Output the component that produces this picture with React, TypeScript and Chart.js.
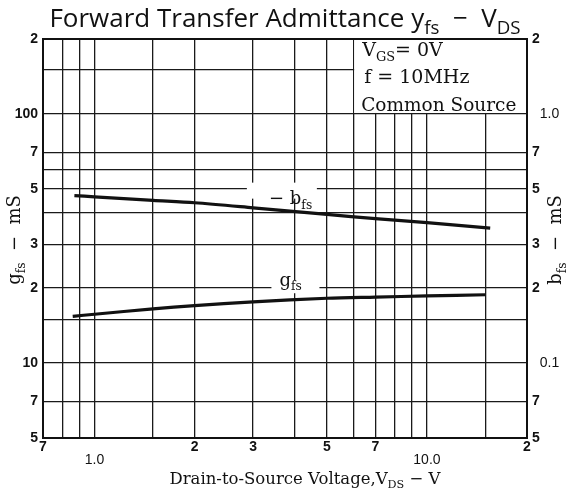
import { useEffect, useRef } from 'react';
import { Chart, registerables } from 'chart.js';

Chart.register(...registerables);

// ---- data ----
const vdsGfs = [0.86, 1.0, 1.5, 2, 3, 5, 7, 10, 15];
const gfsValues = [15.4, 15.7, 16.5, 17.0, 17.6, 18.2, 18.4, 18.6, 18.8]; // mS, left axis
const vdsBfs = [0.87, 1.0, 1.5, 2, 3, 5, 7, 10, 15.5];
const bfsValues = [0.47, 0.465, 0.45, 0.44, 0.42, 0.395, 0.38, 0.366, 0.348]; // mS, right axis

const xGridValues = [0.7, 0.8, 0.9, 1, 1.5, 2, 3, 4, 5, 6, 7, 8, 9, 10, 15, 20];
const xTickLabels: Record<string, string | string[]> = {
  '0.7': '7', '1': ['', '1.0'], '2': '2', '3': '3', '5': '5', '7': '7', '10': ['', '10.0'], '20': '2',
};
const yGridValues = [5, 7, 10, 15, 20, 30, 40, 50, 60, 70, 100, 150, 200];
const yTickLabels: Record<string, string> = {
  '5': '5', '7': '7', '10': '10', '20': '2', '30': '3', '50': '5', '70': '7', '100': '100', '200': '2',
};
const y2TickValues = [0.05, 0.07, 0.1, 0.2, 0.3, 0.5, 0.7, 1, 2];
const y2TickLabels: Record<string, string> = {
  '0.05': '5', '0.07': '7', '0.1': '  0.1', '0.2': '2', '0.3': '3', '0.5': '5', '0.7': '7', '1': '  1.0', '2': '2',
};

const SERIF = '"DejaVu Serif", serif';
const SANS = '"Open Sans", "Noto Sans", sans-serif';
const TICKF = '"Liberation Sans", Arial, sans-serif';
const INK = '#111';

type Part = { t: string; sub?: boolean };

function drawRich(
  ctx: CanvasRenderingContext2D, parts: Part[], x: number, y: number,
  size: number, family: string, align: 'left' | 'center' = 'left', weight = 'normal', subScale = 0.68
) {
  const subSize = size * subScale;
  const widths = parts.map((p) => {
    ctx.font = `${weight} ${p.sub ? subSize : size}px ${family}`;
    return ctx.measureText(p.t).width;
  });
  const total = widths.reduce((a, b) => a + b, 0);
  let cx = align === 'center' ? x - total / 2 : x;
  ctx.textAlign = 'left';
  ctx.textBaseline = 'alphabetic';
  parts.forEach((p, i) => {
    ctx.font = `${weight} ${p.sub ? subSize : size}px ${family}`;
    ctx.fillText(p.t, cx, p.sub ? y + size * 0.25 : y);
    cx += widths[i];
  });
  return total;
}

const overlay = {
  id: 'overlay',
  beforeDatasetsDraw(chart: any) {
    const { ctx, scales } = chart;
    const xs = scales.x, ys = scales.y;
    ctx.save();
    // label backgrounds (break the grid lines behind the curve labels)
    ctx.fillStyle = '#fff';
    const lb = xs.getPixelForValue(3.3);
    ctx.fillRect(lb - 20, ys.getPixelForValue(53), 70, 16);
    const lg = xs.getPixelForValue(3.6);
    ctx.fillRect(lg - 8, ys.getPixelForValue(21.5), 48, 13);
    ctx.restore();
  },
  afterDraw(chart: any) {
    const { ctx, chartArea: a, scales } = chart;
    const xs = scales.x, ys = scales.y;
    ctx.save();

    // condition box (left edge is the 6 V grid line, bottom the 100 mS line)
    const bx = xs.getPixelForValue(6);
    const by = ys.getPixelForValue(100);
    ctx.fillStyle = '#fff';
    ctx.fillRect(bx + 1, a.top, a.right - bx - 1, by - a.top - 1);

    ctx.fillStyle = INK;
    ctx.strokeStyle = INK;
    // plot frame
    ctx.lineWidth = 2;
    ctx.strokeRect(a.left, a.top, a.right - a.left, a.bottom - a.top);

    // title
    drawRich(ctx, [
      { t: 'Forward Transfer Admittance y' }, { t: 'fs', sub: true }, { t: '  \u2212  V' }, { t: 'DS', sub: true },
    ], (a.left + a.right) / 2, 27, 26, SANS, 'center', 'normal', 0.72);

    // condition box text
    drawRich(ctx, [{ t: 'V' }, { t: 'GS', sub: true }, { t: '= 0V' }], bx + 9, a.top + 17, 19, SERIF);
    drawRich(ctx, [{ t: 'f = 10MHz' }], bx + 11, a.top + 44, 19, SERIF);
    drawRich(ctx, [{ t: 'Common Source' }], bx + 8, a.top + 72, 18.5, SERIF);

    // curve labels
    drawRich(ctx, [{ t: '\u2212 b' }, { t: 'fs', sub: true }], xs.getPixelForValue(3.35), ys.getPixelForValue(43.5), 18, SERIF);
    drawRich(ctx, [{ t: 'g' }, { t: 'fs', sub: true }], xs.getPixelForValue(3.6), ys.getPixelForValue(20.4), 18, SERIF);

    // x title
    drawRich(ctx, [
      { t: 'Drain-to-Source Voltage,V' }, { t: 'DS', sub: true }, { t: ' \u2212 V' },
    ], 305, 484, 16.5, SERIF, 'center');

    // y titles (rotated)
    const yc = 240;
    ctx.save();
    ctx.translate(14, yc);
    ctx.rotate(-Math.PI / 2);
    drawRich(ctx, [{ t: 'g' }, { t: 'fs', sub: true }, { t: '  \u2212  mS' }], 0, 6, 18, SERIF, 'center');
    ctx.restore();
    ctx.save();
    ctx.translate(555, yc);
    ctx.rotate(-Math.PI / 2);
    drawRich(ctx, [{ t: 'b' }, { t: 'fs', sub: true }, { t: '  \u2212  mS' }], 0, 6, 18, SERIF, 'center');
    ctx.restore();

    ctx.restore();
  },
};

export default function App() {
  const ref = useRef<HTMLCanvasElement>(null);
  useEffect(() => {
    const canvas = ref.current!;
    const gridOpts = { color: '#1a1a1a', lineWidth: 1.3, drawTicks: false };
    const chart = new Chart(canvas, {
      type: 'line',
      data: {
        datasets: [
          {
            label: 'gfs',
            data: vdsGfs.map((v, i) => ({ x: v, y: gfsValues[i] })),
            yAxisID: 'y',
            borderColor: INK, borderWidth: 3.2, pointRadius: 0, tension: 0.3, fill: false,
          },
          {
            label: '-bfs',
            data: vdsBfs.map((v, i) => ({ x: v, y: bfsValues[i] })),
            yAxisID: 'y2',
            borderColor: INK, borderWidth: 3.2, pointRadius: 0, tension: 0.3, fill: false,
          },
        ],
      },
      options: {
        animation: false,
        responsive: false,
        devicePixelRatio: 1,
        layout: { padding: { top: 39, left: 0, right: 0, bottom: 0 } },
        plugins: { legend: { display: false }, tooltip: { enabled: false }, title: { display: false } },
        scales: {
          x: {
            type: 'logarithmic', min: 0.7, max: 20, position: 'bottom',
            afterBuildTicks: (s: any) => { s.ticks = xGridValues.map((v) => ({ value: v })); },
            afterFit: (s: any) => { s.height = 57; },
            grid: gridOpts,
            border: { display: false },
            ticks: {
              autoSkip: false, maxRotation: 0, minRotation: 0, padding: 2, color: INK,
              font: (c: any) => {
                const lab = xTickLabels[String(c.tick?.value)];
                return Array.isArray(lab)
                  ? { family: TICKF, size: 14, weight: 'normal', lineHeight: 0.95 }
                  : { family: TICKF, size: 14, weight: 'bold', lineHeight: 0.95 };
              },
              callback: (v: any) => xTickLabels[String(v)] ?? '',
            },
          },
          y: {
            type: 'logarithmic', min: 5, max: 200, position: 'left',
            afterBuildTicks: (s: any) => { s.ticks = yGridValues.map((v) => ({ value: v })); },
            afterFit: (s: any) => { s.width = 43; },
            grid: gridOpts,
            border: { display: false },
            ticks: {
              autoSkip: false, padding: 5, color: INK,
              font: { family: TICKF, size: 14, weight: 'bold' },
              callback: (v: any) => yTickLabels[String(v)] ?? '',
            },
          },
          y2: {
            type: 'logarithmic', min: 0.05, max: 2, position: 'right',
            afterBuildTicks: (s: any) => { s.ticks = y2TickValues.map((v) => ({ value: v })); },
            afterFit: (s: any) => { s.width = 41; },
            grid: { display: false, drawTicks: false },
            border: { display: false },
            ticks: {
              autoSkip: false, padding: 5, color: INK,
              font: (c: any) => {
                const lab = y2TickLabels[String(c.tick?.value)] ?? '';
                return lab.length > 2
                  ? { family: TICKF, size: 14, weight: 'normal' }
                  : { family: TICKF, size: 14, weight: 'bold' };
              },
              callback: (v: any) => y2TickLabels[String(v)] ?? '',
            },
          },
        },
      } as any,
      plugins: [overlay],
    });
    return () => chart.destroy();
  }, []);
  return (
    <div style={{ position: 'fixed', left: 0, top: 0, width: 568, height: 495, background: '#fff' }}>
      <canvas ref={ref} width={568} height={495} style={{ display: 'block', width: 568, height: 495 }} />
    </div>
  );
}
